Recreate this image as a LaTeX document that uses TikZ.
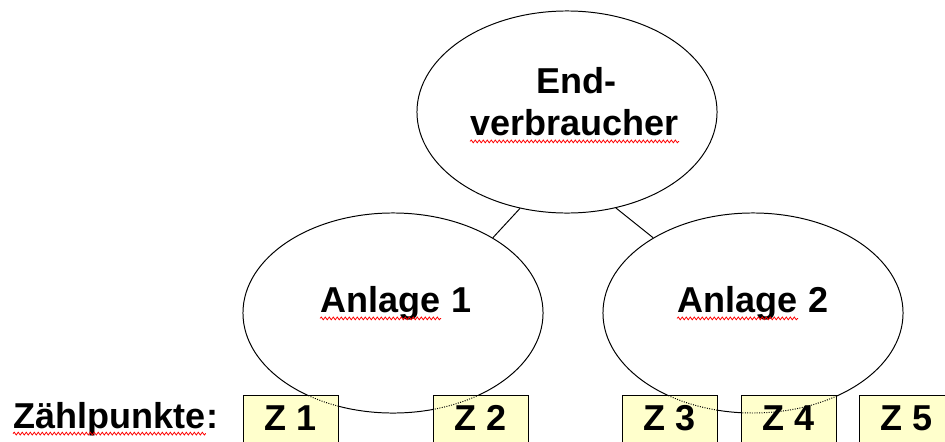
\documentclass[tikz,border=0pt]{standalone}
\usepackage{fontspec}
\setmainfont{Liberation Sans}
\usetikzlibrary{shapes.geometric,decorations.pathmorphing}
\definecolor{zgelb}{HTML}{FFFFCC}

\begin{document}
\begin{tikzpicture}[x=0.025cm, y=-0.025cm, line width=0.7pt,
    kreis/.style={draw, ellipse, inner sep=0pt, minimum width=7.5cm, minimum height=5cm},
    wort/.style={font=\fontsize{25.6}{30}\selectfont\bfseries, inner sep=0pt, anchor=base west},
    zbox/.style={draw, fill=zgelb, anchor=north,
        minimum width=2.375cm, inner xsep=0pt, inner ysep=0pt,
        text height=0.875cm, text depth=0.75cm, font=\fontsize{25.6}{30}\selectfont\bfseries},
    wellig/.style={red, line width=0.55pt, decorate,
        decoration={snake, segment length=0.1cm, amplitude=0.035cm}}]
        \path[use as bounding box] (0,0) rectangle (945,441);
        \clip (0,0) rectangle (945,441);

        \coordinate (pend) at (567,112);
        \coordinate (pan1) at (393,313);
        \coordinate (pan2) at (753,313);

        \node[kreis, minimum height=5.05cm] (endv) at (pend) {};
        \node[kreis] (anl1) at (pan1) {};
        \node[kreis] (anl2) at (pan2) {};

        \draw (endv.244) -- (anl1.37);
        \draw (endv.297) -- (anl2.143);

        % Texte
        \node[wort, anchor=base] (endw) at (576,93) {End-};
        \node[wort] (verbr) at (470,135) {verbraucher};
        \node[wort] (anl1w) at (320,312) {Anlage};
        \node[wort] (anl1n) at ([xshift=0.25cm]anl1w.base east) {1};
        \node[wort] (anl2w) at (677,312) {Anlage};
        \node[wort] (anl2n) at ([xshift=0.25cm]anl2w.base east) {2};
        \node[wort] (zpw) at (13,428) {Zählpunkte};
        \node[wort] (zpd) at (zpw.base east) {:};

        \draw[wellig] ([yshift=-0.16cm]verbr.base west) -- ([yshift=-0.16cm]verbr.base east);
        \draw[wellig] ([yshift=-0.16cm]anl1w.base west) -- ([yshift=-0.16cm]anl1w.base east);
        \draw[wellig] ([yshift=-0.16cm]anl2w.base west) -- ([yshift=-0.16cm]anl2w.base east);
        \draw[wellig] ([yshift=-0.14cm]zpw.base west) -- ([yshift=-0.14cm]zpw.base east);

        % Zaehlpunkte
        \node[zbox] (z1) at (291,395) {Z 1};
        \node[zbox] (z2) at (480.5,395) {Z 2};
        \node[zbox] (z3) at (669.5,395) {Z 3};
        \node[zbox] (z4) at (788.5,395) {Z 4};
        \node[zbox] (z5) at (906.5,395) {Z 5};

        % Ellipsen hinter den Kaestchen
        \begin{scope}
            \clip (z1.south west) rectangle (z1.north east)
                  (z2.south west) rectangle (z2.north east)
                  (z3.south west) rectangle (z3.north east)
                  (z4.south west) rectangle (z4.north east);
            \draw[densely dotted] (pan1) ellipse [x radius=150, y radius=100];
            \draw[densely dotted] (pan2) ellipse [x radius=150, y radius=100];
        \end{scope}
\end{tikzpicture}
\end{document}
